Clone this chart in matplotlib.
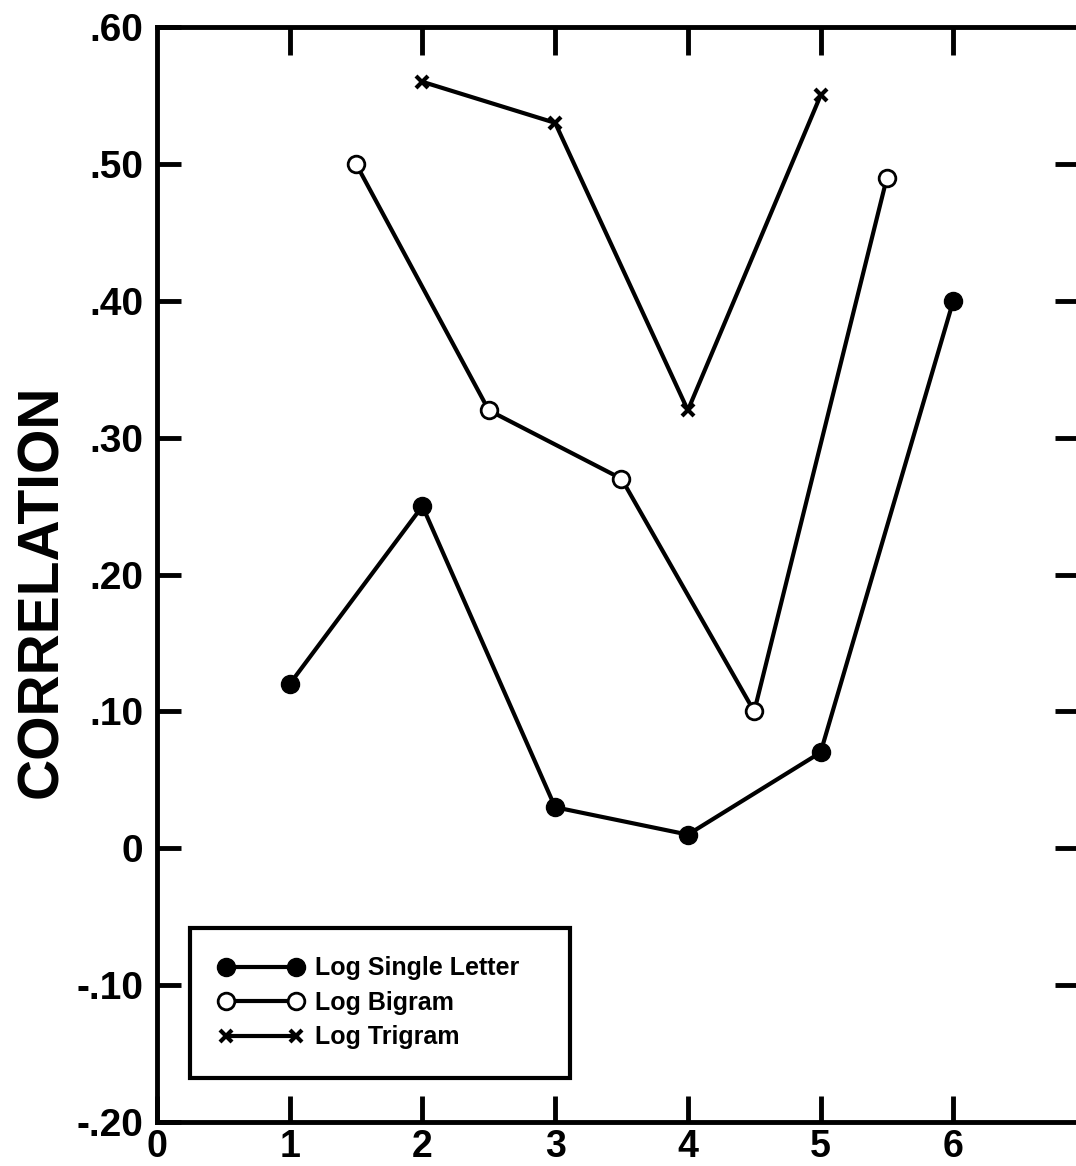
import matplotlib.pyplot as plt

plt.rcParams['font.family'] = ['Liberation Sans', 'DejaVu Sans']
plt.rcParams['font.weight'] = 'bold'

# correlation per position, three measures
single_x = [1, 2, 3, 4, 5, 6]
single_y = [0.12, 0.25, 0.03, 0.01, 0.07, 0.40]
bigram_x = [1.5, 2.5, 3.5, 4.5, 5.5]
bigram_y = [0.50, 0.32, 0.27, 0.10, 0.49]
trigram_x = [2, 3, 4, 5]
trigram_y = [0.56, 0.53, 0.32, 0.55]

y_ticks = [-0.20, -0.10, 0, 0.10, 0.20, 0.30, 0.40, 0.50, 0.60]
y_labels = ["-.20", "-.10", "0", ".10", ".20", ".30", ".40", ".50", ".60"]
x_ticks = [0, 1, 2, 3, 4, 5, 6]

fig = plt.figure(figsize=(10.76, 11.66), dpi=100)
ax = fig.add_axes([0.1459, 0.0377, 0.8634, 0.9391])

ax.plot(single_x, single_y, color='black', lw=3, marker='o', ms=13,
        mfc='black', mec='black', label='Log Single Letter')
ax.plot(bigram_x, bigram_y, color='black', lw=3, marker='o', ms=12,
        mfc='white', mec='black', mew=2, label='Log Bigram')
ax.plot(trigram_x, trigram_y, color='black', lw=3, marker='x', ms=9,
        mew=3, label='Log Trigram')

ax.set_xlim(0, 7)
ax.set_ylim(-0.20, 0.60)
ax.set_yticks(y_ticks)
ax.set_yticklabels(y_labels)
ax.set_xticks(x_ticks)
ax.set_xticklabels([str(t) for t in x_ticks])

for s in ax.spines.values():
    s.set_linewidth(3.5)

ax.tick_params(axis='both', direction='in', width=3.5)
ax.tick_params(axis='x', length=19, pad=5, labelsize=27)
ax.tick_params(axis='y', length=17, pad=10, labelsize=28)

# inner ticks on top and right edges
top = ax.secondary_xaxis('top')
top.set_xticks([1, 2, 3, 4, 5, 6])
top.tick_params(direction='in', length=20, width=3.5, labeltop=False)
top.spines['top'].set_visible(False)
right = ax.secondary_yaxis('right')
right.set_yticks([-0.1, 0, 0.1, 0.2, 0.3, 0.4, 0.5])
right.tick_params(direction='in', length=22, width=3.5, labelright=False)
right.spines['right'].set_visible(False)

ax.set_ylabel('CORRELATION', fontsize=41, fontweight='bold')
ax.yaxis.set_label_coords(-0.0947, 0.4845)

leg = ax.legend(loc='upper left', bbox_to_anchor=(0.25, -0.058, 2.86, 0.0),
                bbox_transform=ax.transData, mode='expand', numpoints=2,
                handlelength=3.4, frameon=True, fancybox=False, framealpha=1,
                borderaxespad=0, borderpad=1.15, labelspacing=0.42,
                handletextpad=0.45,
                prop={'weight': 'bold', 'size': 18})
leg.get_frame().set_edgecolor('black')
leg.get_frame().set_linewidth(3)

fig.savefig('out.png', dpi=100)
